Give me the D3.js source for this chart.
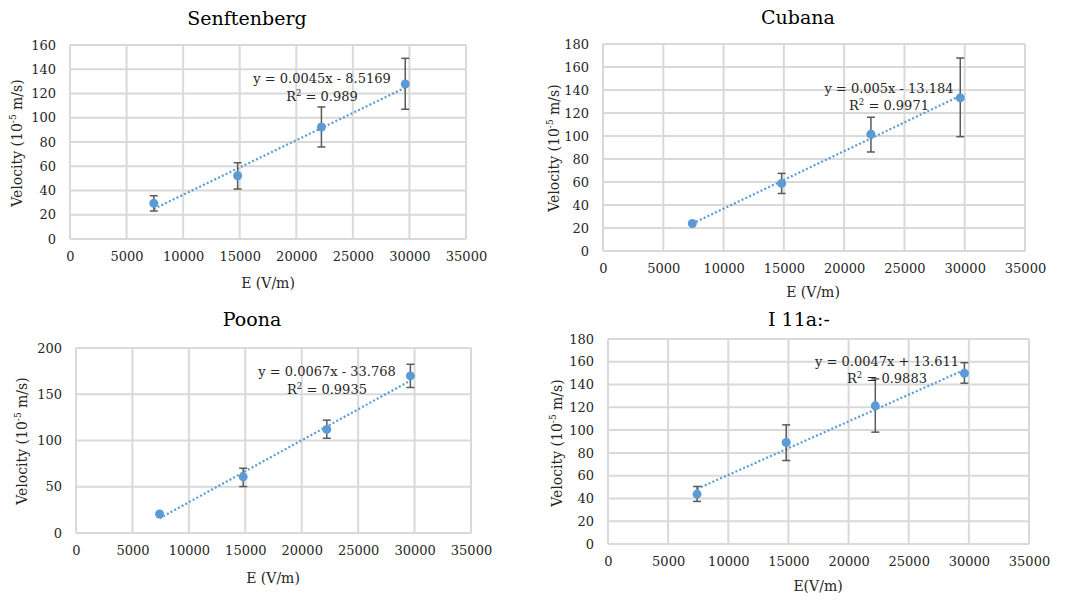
<!DOCTYPE html>
<html>
<head>
<meta charset="utf-8">
<script src="https://cdn.jsdelivr.net/npm/d3@7/dist/d3.min.js"></script>
<style>
  html, body { margin: 0; padding: 0; background: #fff; }
  svg { display: block; font-family: "DejaVu Serif", serif; }
</style>
</head>
<body>
<svg id="chart" width="1067" height="601"></svg>
<script>
// ---------- DATA ----------
const titles = ["Senftenberg", "Cubana", "Poona", "I 11a:-"];
const xTitles = ["E (V/m)", "E (V/m)", "E (V/m)", "E(V/m)"];
const fieldE = [7407, 14815, 22222, 29630];
const velSenftenberg = [29.4, 52.2, 92.4, 127.8];
const velCubana = [23.9, 58.8, 101.5, 133.2];
const velPoona = [20.5, 60.7, 112.0, 169.8];
const velI11a = [43.8, 89.1, 121.3, 149.9];
const errUpSenftenberg = [6.3, 10.7, 16.5, 21.2];
const errDnSenftenberg = [6.3, 11.0, 16.5, 20.8];
const errUpCubana = [0, 8.7, 14.8, 34.6];
const errDnCubana = [0, 8.8, 15.4, 33.8];
const errUpPoona = [0, 9.3, 10.0, 12.6];
const errDnPoona = [0, 10.5, 9.6, 12.5];
const errUpI11a = [6.7, 15.5, 23.7, 9.3];
const errDnI11a = [6.4, 15.8, 23.1, 8.7];
const slopes = [0.0045, 0.005, 0.0067, 0.0047];
const intercepts = [-8.5169, -13.184, -33.768, 13.611];
const eqTexts = ["y = 0.0045x - 8.5169", "y = 0.005x - 13.184", "y = 0.0067x - 33.768", "y = 0.0047x + 13.611"];
const r2Texts = ["0.989", "0.9971", "0.9935", "0.9883"];
const xTicks = [0, 5000, 10000, 15000, 20000, 25000, 30000, 35000];
const yMaxes = [160, 180, 200, 180];
const ySteps = [20, 20, 50, 20];

const velocities = [velSenftenberg, velCubana, velPoona, velI11a];
const errUps = [errUpSenftenberg, errUpCubana, errUpPoona, errUpI11a];
const errDns = [errDnSenftenberg, errDnCubana, errDnPoona, errDnI11a];

// ---------- LAYOUT ----------
const layout = [
  {l: 70,  r: 466,  t: 45,  b: 239, titleX: 247, titleY: 20, ytX: 18,  ytY: 143, xtX: 268, xtY: 288, eqX: 322, eqY: 83, r2Y: 101},
  {l: 603, r: 1025, t: 44,  b: 251, titleX: 798, titleY: 19, ytX: 555, ytY: 148, xtX: 813, xtY: 297, eqX: 889, eqY: 93, r2Y: 110},
  {l: 76,  r: 471,  t: 348, b: 533, titleX: 252, titleY: 321, ytX: 23, ytY: 441, xtX: 273, xtY: 583, eqX: 327, eqY: 376, r2Y: 394},
  {l: 608, r: 1029, t: 339, b: 544, titleX: 799, titleY: 321, ytX: 558, ytY: 443, xtX: 818, xtY: 591, eqX: 887, eqY: 366, r2Y: 383}
];

const blue = "#5b9bd5";
const grid = "#d9d9d9";
const txt = "#262626";

const svg = d3.select("#chart");

titles.forEach((title, i) => {
  const L = layout[i];
  const g = svg.append("g");
  const x = d3.scaleLinear().domain([0, 35000]).range([L.l, L.r]);
  const y = d3.scaleLinear().domain([0, yMaxes[i]]).range([L.b, L.t]);
  const yTicks = d3.range(0, yMaxes[i] + 0.001, ySteps[i]);

  // gridlines
  g.append("g").selectAll("line.h").data(yTicks).join("line")
    .attr("x1", L.l).attr("x2", L.r)
    .attr("y1", d => y(d)).attr("y2", d => y(d))
    .attr("stroke", grid).attr("stroke-width", 2);
  g.append("g").selectAll("line.v").data(xTicks).join("line")
    .attr("x1", d => x(d)).attr("x2", d => x(d))
    .attr("y1", L.t).attr("y2", L.b)
    .attr("stroke", grid).attr("stroke-width", 2);

  // axes (labels only)
  const yAxis = d3.axisLeft(y).tickValues(yTicks).tickSize(0).tickPadding(14);
  const ya = g.append("g").attr("transform", `translate(${L.l},0)`).call(yAxis);
  const xAxis = d3.axisBottom(x).tickValues(xTicks).tickSize(0).tickPadding(13).tickFormat(d3.format("d"));
  const xa = g.append("g").attr("transform", `translate(0,${L.b})`).call(xAxis);
  [ya, xa].forEach(a => {
    a.select(".domain").remove();
    a.selectAll("text").attr("fill", txt).style("font-family", "DejaVu Serif").style("font-size", "13px");
  });

  // title
  g.append("text").attr("x", L.titleX).attr("y", L.titleY).attr("text-anchor", "middle")
    .attr("dominant-baseline", "middle").attr("fill", "#000")
    .style("font-size", "19px").text(title);

  // x title
  g.append("text").attr("x", L.xtX).attr("y", L.xtY).attr("text-anchor", "middle")
    .attr("fill", txt).style("font-size", "14px").text(xTitles[i]);

  // y title
  const yt = g.append("text").attr("transform", `translate(${L.ytX},${L.ytY}) rotate(-90)`)
    .attr("text-anchor", "middle").attr("dominant-baseline", "middle")
    .attr("fill", txt).style("font-size", "14px");
  yt.append("tspan").text("Velocity (10");
  yt.append("tspan").attr("dy", -5).style("font-size", "9px").text("-5");
  yt.append("tspan").attr("dy", 5).text(" m/s)");

  // trendline
  const xs = d3.extent(fieldE);
  g.append("line")
    .attr("x1", x(xs[0])).attr("y1", y(slopes[i] * xs[0] + intercepts[i]))
    .attr("x2", x(xs[1])).attr("y2", y(slopes[i] * xs[1] + intercepts[i]))
    .attr("stroke", blue).attr("stroke-width", 2.2).attr("stroke-dasharray", "2,2.2");

  // error bars
  const pts = fieldE.map((e, k) => ({e, v: velocities[i][k], up: errUps[i][k], dn: errDns[i][k]}));
  const eb = g.append("g").attr("stroke", "#595959").attr("stroke-width", 1.5);
  pts.filter(p => p.up > 0 || p.dn > 0).forEach(p => {
    const cx = x(p.e);
    eb.append("line").attr("x1", cx).attr("x2", cx).attr("y1", y(p.v + p.up)).attr("y2", y(p.v - p.dn));
    eb.append("line").attr("x1", cx - 4).attr("x2", cx + 4).attr("y1", y(p.v + p.up)).attr("y2", y(p.v + p.up));
    eb.append("line").attr("x1", cx - 4).attr("x2", cx + 4).attr("y1", y(p.v - p.dn)).attr("y2", y(p.v - p.dn));
  });

  // markers
  g.append("g").selectAll("circle").data(pts).join("circle")
    .attr("cx", p => x(p.e)).attr("cy", p => y(p.v)).attr("r", 4.5).attr("fill", blue);

  // equation labels
  g.append("text").attr("x", L.eqX).attr("y", L.eqY).attr("text-anchor", "middle")
    .attr("fill", txt).style("font-size", "13px").text(eqTexts[i]);
  const r2 = g.append("text").attr("x", L.eqX).attr("y", L.r2Y).attr("text-anchor", "middle")
    .attr("fill", txt).style("font-size", "13px");
  r2.append("tspan").text("R");
  r2.append("tspan").attr("dy", -5).style("font-size", "8.5px").text("2");
  r2.append("tspan").attr("dy", 5).text(" = " + r2Texts[i]);
});
</script>
</body>
</html>
